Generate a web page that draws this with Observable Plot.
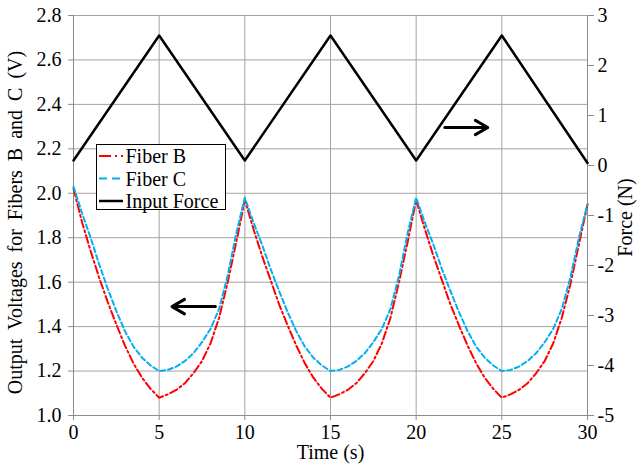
<!DOCTYPE html>
<html>
<head>
<meta charset="utf-8">
<script src="https://cdn.jsdelivr.net/npm/d3@7"></script>
<script src="https://cdn.jsdelivr.net/npm/@observablehq/plot@0.6"></script>
<style>
  html, body { margin: 0; padding: 0; background: #fff; }
  #wrap { position: relative; width: 637px; height: 465px; font-family: "Liberation Serif", "Times New Roman", serif; }
  #wrap svg text { font-family: "Liberation Serif", "Times New Roman", serif !important; }
  #legend { position: absolute; left: 0; top: 0; }
</style>
</head>
<body>
<div id="wrap"></div>
<script>
// ---------- data ----------
const timeS = [0,0.5,1,1.5,2,2.5,3,3.5,4,4.5,5,5.5,6,6.5,7,7.5,8,8.5,9,9.5,
  10,10.5,11,11.5,12,12.5,13,13.5,14,14.5,15,15.5,16,16.5,17,17.5,18,18.5,19,19.5,
  20,20.5,21,21.5,22,22.5,23,23.5,24,24.5,25,25.5,26,26.5,27,27.5,28,28.5,29,29.5,30];
const fiberB = [2.02,1.87,1.74,1.62,1.51,1.41,1.315,1.235,1.17,1.12,
  1.08,1.095,1.115,1.145,1.19,1.245,1.325,1.44,1.60,1.78,
  1.97,1.84,1.72,1.61,1.50,1.405,1.315,1.235,1.17,1.12,
  1.08,1.095,1.115,1.145,1.19,1.245,1.325,1.44,1.60,1.78,
  1.97,1.84,1.72,1.61,1.50,1.405,1.315,1.235,1.17,1.12,
  1.08,1.095,1.115,1.145,1.19,1.245,1.325,1.44,1.59,1.77,
  1.95];
const fiberC = [2.03,1.91,1.80,1.68,1.57,1.47,1.38,1.31,1.26,1.225,
  1.20,1.205,1.22,1.245,1.28,1.33,1.39,1.48,1.63,1.82,
  1.98,1.87,1.77,1.66,1.56,1.465,1.38,1.31,1.26,1.225,
  1.20,1.205,1.22,1.245,1.28,1.33,1.39,1.48,1.63,1.82,
  1.98,1.87,1.77,1.66,1.56,1.465,1.38,1.31,1.26,1.225,
  1.20,1.205,1.22,1.245,1.28,1.33,1.39,1.48,1.62,1.80,
  1.95];
const forceTime = [0,5,10,15,20,25,30];
const forceN = [0.1,2.6,0.1,2.6,0.1,2.6,0.05];

const xTicks = [0,5,10,15,20,25,30];
const voltTicks = [1.0,1.2,1.4,1.6,1.8,2.0,2.2,2.4,2.6,2.8];
const forceTicks = [-5,-4,-3,-2,-1,0,1,2,3];

const seriesNames = ["Fiber B","Fiber C","Input Force"];
const seriesColors = ["#ff0000","#00b0f0","#000000"];

// arrows pointing to each series' axis
const arrowTs = [[8.28,5.75],[21.67,24.18]];
const arrowV = [1.49,2.296];

const xLabel = "Time (s)";
const yLabel = "Output Voltages for Fibers B and C (V)";
const y2Label = "Force (N)";

// ---------- helpers ----------
const VMIN = 1.0, VMAX = 2.8, FMIN = -5, FMAX = 3;
const f2v = f => VMIN + (f - FMIN) * (VMAX - VMIN) / (FMAX - FMIN);
const v2f = v => FMIN + (v - VMIN) * (FMAX - FMIN) / (VMAX - VMIN);

const rows = timeS.map((t, i) => ({t, b: fiberB[i], c: fiberC[i]}));
const forceRows = forceTime.map((t, i) => ({t, v: f2v(forceN[i])}));
const arrows = arrowTs.map((a, i) => ({t1: a[0], t2: a[1], v: arrowV[i]}));

const gridColor = "#a3a3a3";
const axisColor = "#8c8c8c";
const FONT = "'Liberation Serif', 'Times New Roman', serif";

const chart = Plot.plot({
  width: 637,
  height: 465,
  marginLeft: 73,
  marginRight: 50,
  marginTop: 15,
  marginBottom: 50,
  style: {fontFamily: FONT, fontSize: "20px", color: "#000", background: "#fff"},
  x: {domain: [0, 30]},
  y: {domain: [VMIN, VMAX]},
  marks: [
    Plot.gridX(xTicks.filter(d => d > 0 && d < 30), {stroke: gridColor, strokeOpacity: 1}),
    Plot.gridY(voltTicks.filter(d => d > VMIN), {stroke: gridColor, strokeOpacity: 1}),
    Plot.ruleX([0, 30], {stroke: axisColor}),
    Plot.ruleY([VMIN], {stroke: axisColor}),
    Plot.axisX(xTicks, {tickSize: 5, tickPadding: 4, stroke: axisColor, fill: "#000", label: null, tickFormat: d => String(d)}),
    Plot.axisY(voltTicks, {tickSize: 5, tickPadding: 7, stroke: axisColor, fill: "#000", label: null, tickFormat: d => d.toFixed(1)}),
    Plot.axisY(forceTicks.map(f2v), {anchor: "right", tickSize: 6, tickPadding: 4, stroke: axisColor, fill: "#000", label: null,
      tickFormat: v => String(Math.round(v2f(v)))}),
    Plot.line(rows, {x: "t", y: "b", stroke: seriesColors[0], strokeWidth: 2, strokeDasharray: "8,3,2,3"}),
    Plot.line(rows, {x: "t", y: "c", stroke: seriesColors[1], strokeWidth: 2, strokeDasharray: "5,3"}),
    Plot.line(forceRows, {x: "t", y: "v", stroke: seriesColors[2], strokeWidth: 2.5}),
    Plot.arrow(arrows, {x1: "t1", x2: "t2", y1: "v", y2: "v", stroke: "#000", strokeWidth: 3, headLength: 11, headAngle: 60}),
    Plot.text([xLabel], {frameAnchor: "bottom", dy: 37, lineAnchor: "middle", textAnchor: "middle", fontSize: 20, fill: "#000"}),
    Plot.text([yLabel], {frameAnchor: "left", dx: -58, dy: 7, rotate: -90, textAnchor: "middle", lineAnchor: "middle", fontSize: 20, fill: "#000"}),
    Plot.text([y2Label], {frameAnchor: "right", dx: 38, dy: 2, rotate: -90, textAnchor: "middle", lineAnchor: "middle", fontSize: 20, fill: "#000"})
  ]
});

const wrap = document.getElementById("wrap");
wrap.appendChild(chart);

// wider word spacing on the left title like the reference
d3.select(chart).selectAll("text").filter(function() { return this.textContent === yLabel; })
  .style("word-spacing", "4px");

// ---------- legend (inside plot area) ----------
const lg = d3.select(wrap).append("svg")
  .attr("id", "legend")
  .attr("width", 637).attr("height", 465)
  .style("pointer-events", "none");
lg.append("rect").attr("x", 96.5).attr("y", 144.5).attr("width", 129).attr("height", 65)
  .attr("fill", "#fff").attr("stroke", "#000").attr("stroke-width", 1);
const dashes = ["12,4,2,4", "8,5", null];
const widths = [2, 2, 2.5];
seriesNames.forEach((name, i) => {
  const y = 156 + i * 22.5;
  const ln = lg.append("line").attr("x1", 99).attr("x2", 123).attr("y1", y).attr("y2", y)
    .attr("stroke", seriesColors[i]).attr("stroke-width", widths[i]);
  if (dashes[i]) ln.attr("stroke-dasharray", dashes[i]);
  lg.append("text").attr("x", 125.5).attr("y", y).attr("dy", "0.35em")
    .attr("font-size", 20).attr("fill", "#000").text(name);
});
</script>
</body>
</html>
